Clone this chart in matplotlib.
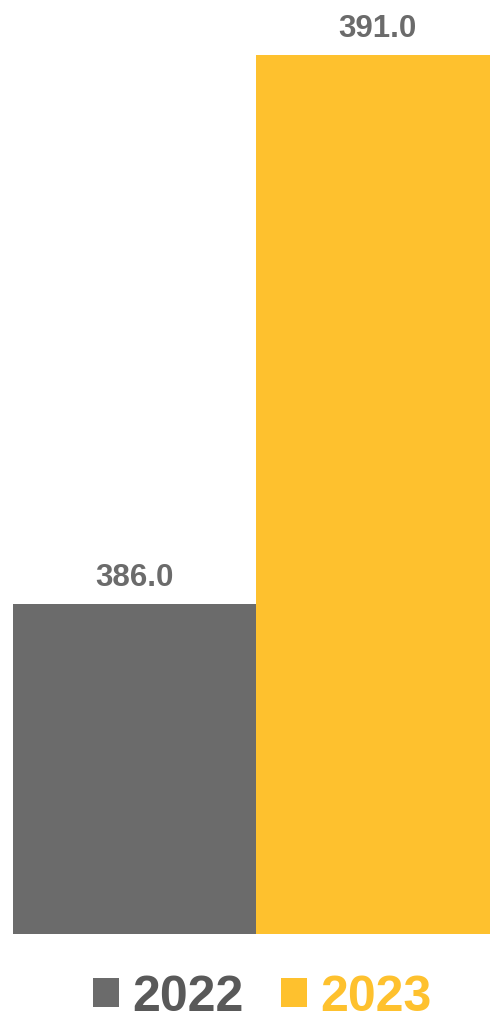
import matplotlib
matplotlib.use('Agg')
from matplotlib import pyplot as plt
from matplotlib.patches import Patch

# data
years = ['2022', '2023']
values = [386.0, 391.0]
colors = ['#6b6b6b', '#fec12e']
legend_text_colors = ['#595959', '#fec12e']

plt.rcParams['font.family'] = ['Liberation Sans', 'DejaVu Sans']

fig = plt.figure(figsize=(4.9, 10.2), dpi=100)
ax = fig.add_axes([13 / 490, 85 / 1020, 486 / 490, 935 / 1020])

x = list(range(len(years)))
ax.bar(x, values, width=1.0, color=colors, bottom=0)
ax.set_xlim(-0.5, 1.5)
ax.set_ylim(383, 391.51)

# value labels above bars
for i, v in enumerate(values):
    ax.annotate(f"{v:.1f}", xy=(x[i], v), xytext=(0, 13.7), textcoords='offset points',
                ha='center', va='baseline', fontsize=22.5, fontweight='bold', color='#6b6b6b')

ax.axis('off')

# legend at the bottom, text coloured like the bars
handles = [Patch(facecolor=c, edgecolor='none') for c in colors]
leg = fig.legend(handles, years, loc='center', bbox_to_anchor=(262 / 490, 0.0215),
                 ncol=2, frameon=False, prop={'size': 36, 'weight': 'bold'},
                 handlelength=0.53, handleheight=0.53, handletextpad=0.25,
                 columnspacing=0.75, labelcolor=legend_text_colors)

fig.savefig('out.png', dpi=100)
